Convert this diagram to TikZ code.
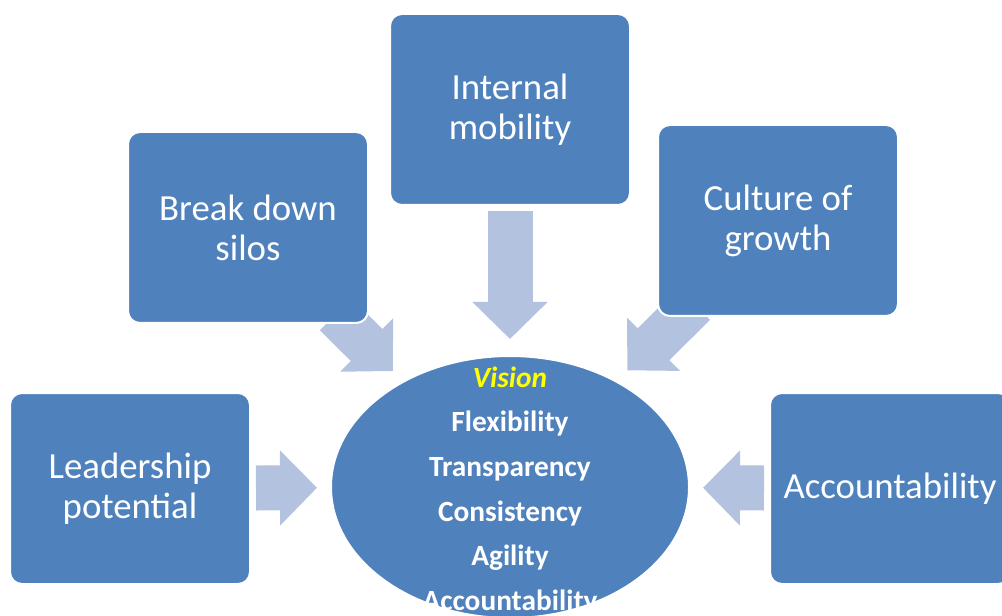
\documentclass[tikz,border=0pt]{standalone}
\usepackage{fontspec}
\setmainfont{Carlito}
\usepackage{tikz}
\usetikzlibrary{shapes.geometric,arrows.meta,backgrounds}
\usepackage{xcolor}

\definecolor{boxblue}{RGB}{79,129,189}
\definecolor{arrowblue}{RGB}{179,194,222}
\definecolor{visionyellow}{RGB}{255,255,0}

\tikzset{
  topicbox/.style={rectangle, rounded corners=9pt, minimum width=180pt, minimum height=143.25pt,
    fill=boxblue, draw=white, line width=1.5pt, text=white, align=center,
    font=\fontsize{27.6pt}{30pt}\selectfont},
  hub/.style={ellipse, minimum width=268.5pt, minimum height=196.5pt, inner sep=0pt,
    fill=boxblue, draw=white, line width=1.5pt},
  hubtext/.style={text=white, align=center, font=\bfseries\fontsize{22pt}{33.5pt}\selectfont},
  flow/.style={line width=33.75pt, color=arrowblue, -{Triangle[length=27.75pt,width=54.75pt]}}
}

\begin{document}
\begin{tikzpicture}[x=0.75pt,y=0.75pt,yscale=-1,xscale=1]
\useasboundingbox (0,0) rectangle (1002,616);

% boxes round the hub
\node[topicbox] (silos) at (248,227.5) {Break down\\silos};
\node[topicbox] (mobility) at (510,109.5) {Internal\\mobility};
\node[topicbox] (growth) at (778,220.5) {Culture of\\growth};
\node[topicbox] (leadership) at (130,488.5) {Leadership\\potential};
\node[topicbox] (account) at (890,488.5) {Accountability};

% hub
\node[hub] (vision) at (510,487) {};
\node[hubtext] (visionlist) at (510,491) {\textcolor{visionyellow}{\itshape Vision}\\Flexibility\\Transparency\\Consistency\\Agility\\Accountability};

% block arrows, behind the boxes
\begin{scope}[on background layer]
\draw[flow, shorten <=92.5pt, shorten >=123.6pt] (silos.center) -- (vision.center);
\draw[flow, shorten <=76.1pt, shorten >=111pt] (mobility.center) -- (vision.center);
\draw[flow, shorten <=88.7pt, shorten >=124.1pt] (growth.center) -- (vision.center);
\draw[flow, shorten <=94.5pt, shorten >=144.75pt] (leadership.center) -- (vision.center);
\draw[flow, shorten <=94.5pt, shorten >=144.75pt] (account.center) -- (vision.center);
\end{scope}

\end{tikzpicture}
\end{document}
